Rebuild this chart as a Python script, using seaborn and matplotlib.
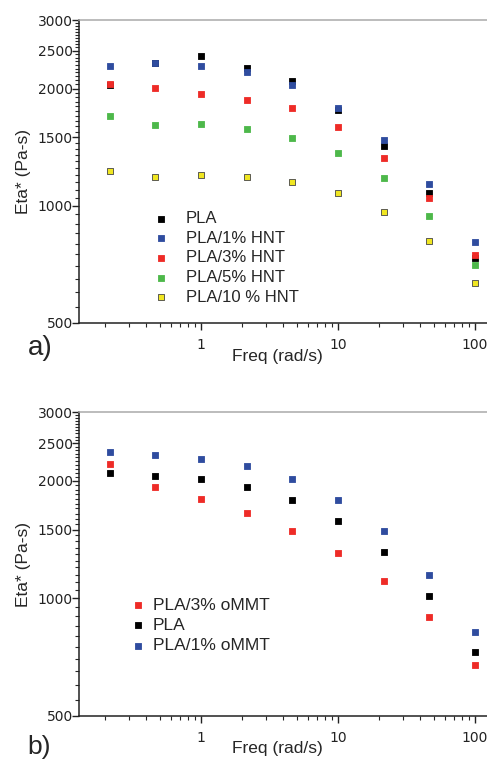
import numpy as np
import pandas as pd
import matplotlib
matplotlib.use("Agg")
import matplotlib.pyplot as plt
import matplotlib.ticker as mticker
import seaborn as sns

sns.set_theme(style="ticks")
plt.rcParams["font.family"] = ["Liberation Sans", "DejaVu Sans"]

# ------------------------------
# Data
# ------------------------------
freq = [0.215, 0.464, 1.0, 2.15, 4.64, 10.0, 21.5, 46.4, 100.0]

# panel a) HNT
pla_a = [2040, 2320, 2420, 2257, 2090, 1757, 1425, 1077, 735]
hnt_1 = [2290, 2333, 2290, 2204, 2040, 1788, 1477, 1136, 806]
hnt_3 = [2054, 2010, 1940, 1871, 1778, 1589, 1330, 1048, 747]
hnt_5 = [1703, 1608, 1621, 1573, 1494, 1365, 1177, 942, 703]
hnt_10 = [1227, 1184, 1200, 1184, 1150, 1080, 962, 811, 632]

# panel b) oMMT
mmt_3 = [2215, 1933, 1803, 1652, 1492, 1310, 1108, 893, 675]
pla_b = [2095, 2063, 2018, 1933, 1792, 1583, 1315, 1016, 728]
mmt_1 = [2372, 2326, 2275, 2180, 2022, 1790, 1486, 1150, 822]

labels_a = ["PLA", "PLA/1% HNT", "PLA/3% HNT", "PLA/5% HNT", "PLA/10 % HNT"]
labels_b = ["PLA/3% oMMT", "PLA", "PLA/1% oMMT"]

BLACK = "#000000"
BLUE = "#2f4c9f"
RED = "#ee2b27"
GREEN = "#4db84a"
YELLOW = "#f0e621"

series_a = [(labels_a[0], pla_a, BLACK, BLACK),
            (labels_a[1], hnt_1, BLUE, BLUE),
            (labels_a[2], hnt_3, RED, RED),
            (labels_a[3], hnt_5, GREEN, GREEN),
            (labels_a[4], hnt_10, YELLOW, "#444444")]
series_b = [(labels_b[0], mmt_3, RED, RED),
            (labels_b[1], pla_b, BLACK, BLACK),
            (labels_b[2], mmt_1, BLUE, BLUE)]

fig = plt.figure(figsize=(4.87, 7.64), dpi=100)
W, H = 487.0, 764.0
ax_a = fig.add_axes([79 / W, 1 - 323 / H, 410 / W, 303 / H])
ax_b = fig.add_axes([79 / W, 1 - 715.7 / H, 410 / W, 303.4 / H])


def draw_panel(ax, series, leg_anchor, leg_size, textpad, spacing):
    for name, vals, face, edge in series:
        df = pd.DataFrame({"freq": freq, "eta": vals})
        sns.scatterplot(data=df, x="freq", y="eta", ax=ax, marker="s", s=24,
                        color=face, edgecolor=edge, linewidth=0.6, label=name,
                        zorder=3)
    ax.set_xscale("log")
    ax.set_yscale("log")
    ax.set_xlim(0.1287, 126.5)
    ax.set_ylim(500, 3000)

    ax.yaxis.set_major_locator(mticker.FixedLocator([500, 1000, 1500, 2000, 2500, 3000]))
    ax.yaxis.set_major_formatter(mticker.FormatStrFormatter("%d"))
    ax.yaxis.set_minor_locator(mticker.MultipleLocator(50))
    ax.yaxis.set_minor_formatter(mticker.NullFormatter())
    ax.xaxis.set_major_locator(mticker.FixedLocator([1, 10, 100]))
    ax.xaxis.set_major_formatter(mticker.FormatStrFormatter("%g"))
    ax.xaxis.set_minor_locator(mticker.LogLocator(base=10, subs=np.arange(2, 10)))
    ax.xaxis.set_minor_formatter(mticker.NullFormatter())

    ax.tick_params(which="major", direction="out", length=5, width=1,
                   labelsize=10, colors="#222222")
    ax.tick_params(axis="y", which="major", pad=-0.5)
    ax.tick_params(axis="x", which="major", pad=6)
    ax.tick_params(which="minor", direction="out", length=3, width=0.8)
    for lab in ax.get_xticklabels() + ax.get_yticklabels():
        lab.set_family("DejaVu Sans")
    for side in ["left", "bottom"]:
        ax.spines[side].set_color("#222222")
        ax.spines[side].set_linewidth(1.1)
    ax.spines["top"].set_color("#aaaaaa")
    ax.spines["top"].set_linewidth(1.1)
    ax.spines["right"].set_visible(False)

    ax.set_xlabel("Freq (rad/s)", fontsize=12.5)
    ax.set_ylabel("Eta* (Pa-s)", fontsize=12.5)
    ax.xaxis.set_label_coords(0.485, -0.085)
    ax.yaxis.set_label_coords(-0.117, 0.5)

    ax.legend(loc="upper left", bbox_to_anchor=leg_anchor, frameon=False,
              fontsize=leg_size, handlelength=0.6, handletextpad=textpad,
              labelspacing=spacing, borderpad=0, borderaxespad=0, markerscale=1.0)


draw_panel(ax_a, series_a, (0.188, 0.37), 12, 1.2, 0.28)
draw_panel(ax_b, series_b, (0.132, 0.39), 12.5, 0.55, 0.3)

fig.text(28 / W, 1 - 348 / H, "a)", fontsize=20, va="center", ha="left")
fig.text(27 / W, 1 - 747 / H, "b)", fontsize=19, va="center", ha="left")

plt.savefig("out.png", dpi=100)
plt.close()
